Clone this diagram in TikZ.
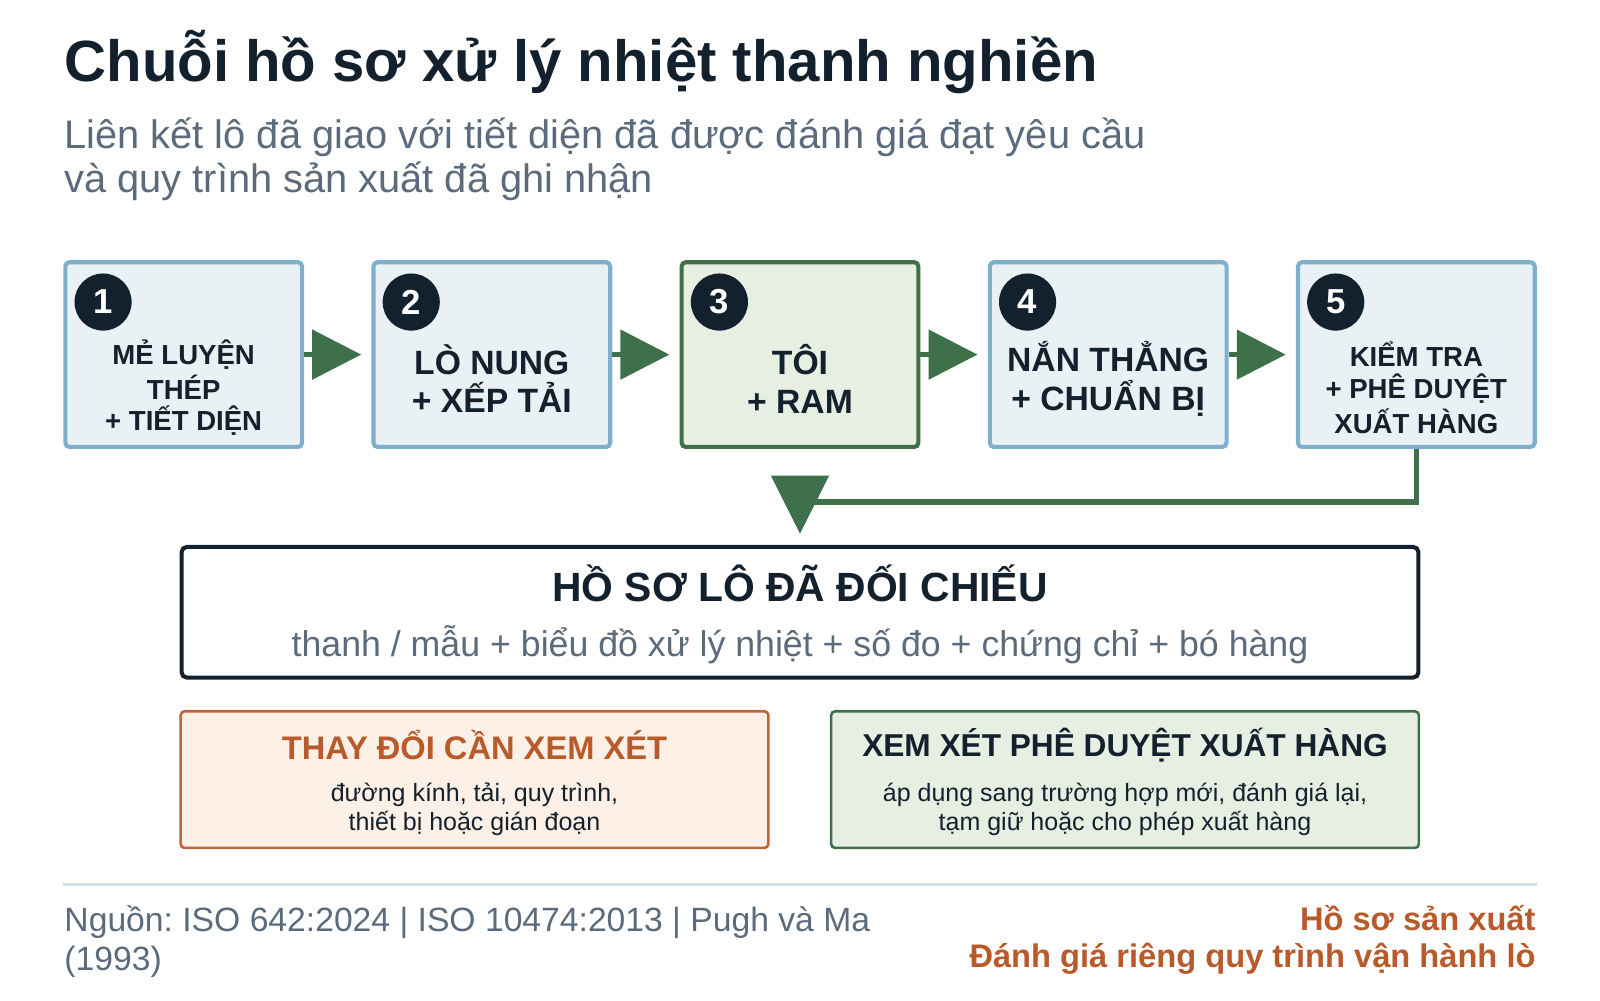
\documentclass[tikz,border=0pt]{standalone}
\usepackage{fontspec}
\setmainfont{Liberation Sans}
\usetikzlibrary{arrows.meta,calc}
\definecolor{navy}{HTML}{13202D}
\definecolor{slate}{HTML}{5B6B7B}
\definecolor{bluefill}{HTML}{E9F1F5}
\definecolor{bluestroke}{HTML}{7EB0CD}
\definecolor{greenfill}{HTML}{E7EFE3}
\definecolor{greenc}{HTML}{3E7149}
\definecolor{orangefill}{HTML}{FDF0E7}
\definecolor{orangec}{HTML}{C0653A}
\definecolor{orangetext}{HTML}{B85A2A}
\definecolor{rulec}{HTML}{D6DEE6}
\newcommand{\fs}[1]{\fontsize{#1}{#1}\selectfont}
\frenchspacing
\begin{document}
\frenchspacing
\begin{tikzpicture}[x=1pt,y=-1pt,
  stepbox/.style={draw=bluestroke, fill=bluefill, line width=4pt, rounded corners=4pt,
    minimum width=232pt, minimum height=181pt, inner sep=0pt},
  hotbox/.style={stepbox, draw=greenc, fill=greenfill},
  numdot/.style={circle, fill=navy, minimum size=56pt, inner sep=0pt, text=white,
    font=\bfseries\fs{34}},
  bigtxt/.style={align=center, text=navy, font=\bfseries\fs{33}, inner sep=0pt},
  smalltxt/.style={align=center, text=navy, font=\bfseries\fs{27}, inner sep=0pt},
  flow/.style={draw=greenc, line width=5pt, -{Triangle[length=48pt,width=48pt]}, shorten >=10pt},
  notebox/.style={line width=2.5pt, rounded corners=4pt, minimum width=576pt,
    minimum height=134pt, inner sep=0pt},
]
\useasboundingbox (0,0) rectangle (1568,980);

% title
\node[anchor=base west, inner sep=0pt, text=navy, font=\bfseries\fs{57}] (title) at (63,80)
  {Chuỗi hồ sơ xử lý nhiệt thanh nghiền};
\node[anchor=base west, inner sep=0pt, text=slate, font=\fs{39}, align=left] (sub1) at (63,146)
  {Liên kết lô đã giao với tiết diện đã được đánh giá đạt yêu cầu};
\node[anchor=base west, inner sep=0pt, text=slate, font=\fs{39}, align=left] (sub2) at (63,189)
  {và quy trình sản xuất đã ghi nhận};

% step boxes
\node[stepbox] (b1) at (180,347.5) {};
\node[stepbox] (b2) at (482,347.5) {};
\node[hotbox]  (b3) at (784,347.5) {};
\node[stepbox] (b4) at (1086,347.5) {};
\node[stepbox] (b5) at (1388,347.5) {};

\foreach \b/\n in {b1/1,b2/2,b3/3,b4/4,b5/5}{
  \node[numdot] (n\n) at ($(\b.north west)+(39,41)$) {\n};
}

\node[smalltxt] (t1) at (180,380) {MẺ LUYỆN\\[4pt]THÉP\\[4pt]+ TIẾT DIỆN};
\node[bigtxt] (t2) at (482,371) {LÒ NUNG\\[5pt]+ XẾP TẢI};
\node[bigtxt] (t3) at (784,371) {TÔI\\[5pt]+ RAM};
\node[bigtxt] (t4) at (1086,371) {NẮN THẲNG\\[5pt]+ CHUẨN BỊ};
\node[smalltxt] (t5) at (1388,380) {KIỂM TRA\\[4pt]+ PHÊ DUYỆT\\[4pt]XUẤT HÀNG};

\draw[flow] (b1.east) -- (b2.west);
\draw[flow] (b2.east) -- (b3.west);
\draw[flow] (b3.east) -- (b4.west);
\draw[flow] (b4.east) -- (b5.west);

% record box
\node[draw=navy, fill=white, line width=4pt, rounded corners=5pt, minimum width=1212pt,
  minimum height=128pt, inner sep=0pt] (rec) at (784,600) {};
\node[text=navy, font=\bfseries\fs{40}, inner sep=0pt] (rect) at (784,572)
  {HỒ SƠ LÔ ĐÃ ĐỐI CHIẾU};
\node[text=slate, font=\fs{35}, inner sep=0pt] (recs) at (784,632)
  {thanh / mẫu + biểu đồ xử lý nhiệt + số đo + chứng chỉ + bó hàng};

\draw[draw=greenc, line width=5pt, -{Triangle[length=57pt,width=56pt]}, shorten >=11pt]
  (b5.south) -- ++(0,52) -| (rec.north);

% note boxes
\node[notebox, draw=orangec, fill=orangefill] (chg) at (465,764) {};
\node[text=orangetext, font=\bfseries\fs{32}, inner sep=0pt] (chgt) at (465,730)
  {THAY ĐỔI CẦN XEM XÉT};
\node[text=navy, font=\fs{24.5}, align=center, inner sep=0pt] (chgb) at (465,793)
  {đường kính, tải, quy trình,\\[3.5pt]thiết bị hoặc gián đoạn};

\node[notebox, draw=greenc, fill=greenfill] (rel) at (1102.5,764) {};
\node[text=navy, font=\bfseries\fs{31}, inner sep=0pt] (relt) at (1102.5,730)
  {XEM XÉT PHÊ DUYỆT XUẤT HÀNG};
\node[text=navy, font=\fs{24.5}, align=center, inner sep=0pt] (relb) at (1102.5,793)
  {áp dụng sang trường hợp mới, đánh giá lại,\\[3.5pt]tạm giữ hoặc cho phép xuất hàng};

% footer
\coordinate (rl) at (62,867);
\coordinate (rr) at (1506,867);
\draw[rulec, line width=3pt] (rl) -- (rr);
\node[anchor=base west, inner sep=0pt, text=slate, font=\fs{33}] (src1) at (63,913)
  {Nguồn: ISO 642:2024 | ISO 10474:2013 | Pugh và Ma};
\node[anchor=base west, inner sep=0pt, text=slate, font=\fs{33}] (src2) at (63,951)
  {(1993)};
\node[anchor=base east, inner sep=0pt, text=orangetext, font=\bfseries\fs{32}] (ft1) at (1505,912)
  {Hồ sơ sản xuất};
\node[anchor=base east, inner sep=0pt, text=orangetext, font=\bfseries\fs{32}] (ft2) at (1505,948)
  {Đánh giá riêng quy trình vận hành lò};
\end{tikzpicture}
\end{document}
